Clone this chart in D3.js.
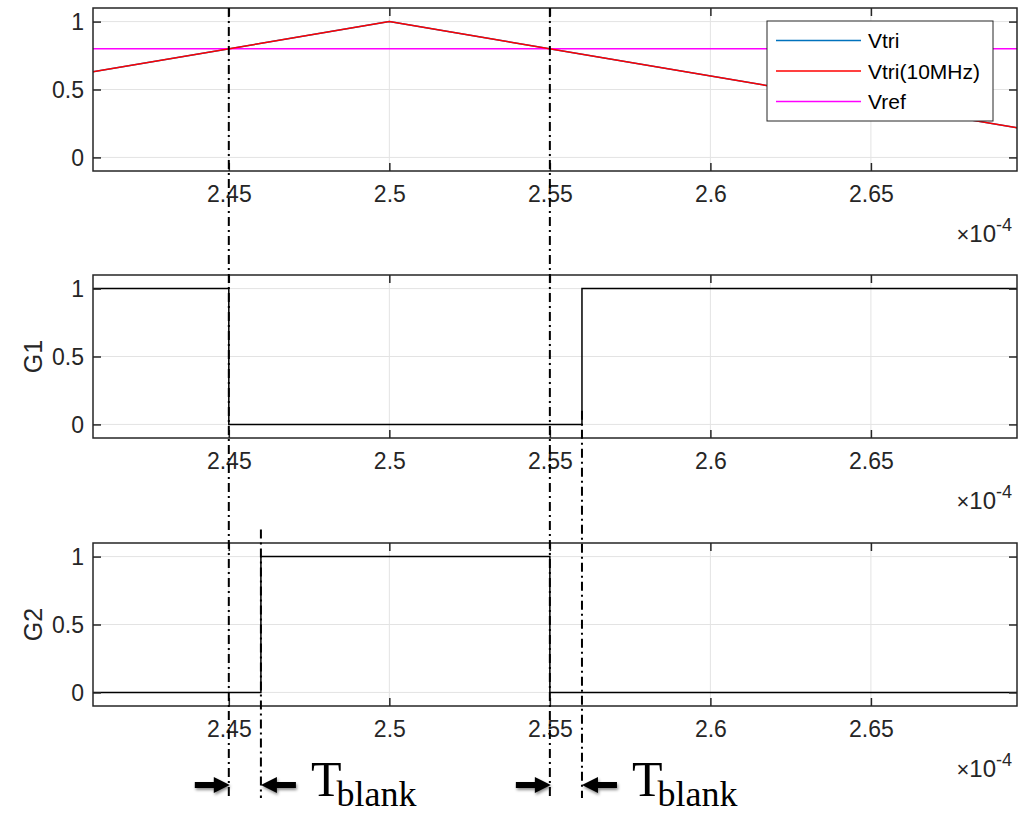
<!DOCTYPE html>
<html>
<head>
<meta charset="utf-8">
<script src="https://cdn.jsdelivr.net/npm/d3@7"></script>
<style>
  body { margin: 0; background: #fff; }
  svg { display: block; }
</style>
</head>
<body>
<div id="container"></div>
<script>
// ---- data (time axis in units of 1e-4 s) ----
const xDomain = [2.4077, 2.6955]
const yDomain = [-0.1, 1.1]
const xTicks = [2.45, 2.5, 2.55, 2.6, 2.65]
const yTicks = [0, 0.5, 1]

const vtriT = [2.25, 2.5, 2.75]
const vtriV = [0, 1, 0]
const vtri10T = [2.25, 2.5, 2.75]
const vtri10V = [0, 1, 0]
const vrefT = [2.25, 2.75]
const vrefV = [0.8, 0.8]

const g1T = [2.40, 2.45, 2.56, 2.70]
const g1V = [1, 0, 1, 1]
const g2T = [2.40, 2.46, 2.55, 2.70]
const g2V = [0, 1, 0, 0]

const legendNames = ['Vtri', 'Vtri(10MHz)', 'Vref']
const panelLabels = ['', 'G1', 'G2']

// dead-time edges: [gate off, gate on]
const blankStart = [2.45, 2.55]
const blankEnd = [2.46, 2.56]

function f1() {
    const config = {
        width: 1025,
        height: 816,
        left: 93,
        plotW: 924,
        plotH: 163,
        tops: [8, 275, 543],
        font: '"Liberation Sans", Arial, Helvetica, sans-serif',
        axisColor: '#262626',
    }

    const svg = d3
        .select('#container')
        .append('svg')
        .attr('width', config.width)
        .attr('height', config.height)

    const defs = svg.append('defs')
    const shadow = defs.append('filter').attr('id', 'shadow')
        .attr('x', '-20%').attr('y', '-50%').attr('width', '140%').attr('height', '200%')
    shadow.append('feDropShadow')
        .attr('dx', 1).attr('dy', 2).attr('stdDeviation', 1.5)
        .attr('flood-color', '#000').attr('flood-opacity', 0.45)

    const scaleX = d3.scaleLinear().domain(xDomain).range([0, config.plotW])
    const scaleY = d3.scaleLinear().domain(yDomain).range([config.plotH, 0])

    const toPoints = (ts, vs) => ts.map((t, i) => [t, vs[i]])

    const series = [
        [
            { pts: toPoints(vtriT, vtriV), color: '#0072BD', curve: d3.curveLinear },
            { pts: toPoints(vrefT, vrefV), color: '#FF00FF', curve: d3.curveLinear },
            { pts: toPoints(vtri10T, vtri10V), color: '#FF0000', curve: d3.curveLinear },
        ],
        [{ pts: toPoints(g1T, g1V), color: '#000', curve: d3.curveStepAfter }],
        [{ pts: toPoints(g2T, g2V), color: '#000', curve: d3.curveStepAfter }],
    ]

    const panels = config.tops.map((top, p) => {
        const g = svg.append('g').attr('transform', `translate(${config.left}, ${top})`)

        defs.append('clipPath').attr('id', 'clip' + p)
            .append('rect').attr('width', config.plotW).attr('height', config.plotH)

        // grid
        g.append('g').selectAll('line').data(xTicks).enter().append('line')
            .attr('x1', d => scaleX(d)).attr('x2', d => scaleX(d))
            .attr('y1', 0).attr('y2', config.plotH)
            .attr('stroke', '#e3e3e3').attr('stroke-width', 1)
        g.append('g').selectAll('line').data(yTicks).enter().append('line')
            .attr('x1', 0).attr('x2', config.plotW)
            .attr('y1', d => scaleY(d)).attr('y2', d => scaleY(d))
            .attr('stroke', '#e3e3e3').attr('stroke-width', 1)

        // data lines
        const lines = g.append('g').attr('clip-path', `url(#clip${p})`)
        series[p].forEach(s => {
            lines.append('path')
                .datum(s.pts)
                .attr('fill', 'none')
                .attr('stroke', s.color)
                .attr('stroke-width', 1.5)
                .attr('d', d3.line().x(d => scaleX(d[0])).y(d => scaleY(d[1])).curve(s.curve))
        })

        // axes
        const xAxis = g.append('g')
            .attr('transform', `translate(0, ${config.plotH})`)
            .call(d3.axisBottom(scaleX).tickValues(xTicks).tickFormat(d3.format('~g'))
                .tickSizeInner(-8).tickSizeOuter(0).tickPadding(15))
        const xAxisTop = g.append('g')
            .call(d3.axisTop(scaleX).tickValues(xTicks).tickFormat('')
                .tickSizeInner(-8).tickSizeOuter(0))
        const yAxis = g.append('g')
            .call(d3.axisLeft(scaleY).tickValues(yTicks).tickFormat(d3.format('~g'))
                .tickSizeInner(-8).tickSizeOuter(0).tickPadding(9))
        const yAxisRight = g.append('g')
            .attr('transform', `translate(${config.plotW}, 0)`)
            .call(d3.axisRight(scaleY).tickValues(yTicks).tickFormat('')
                .tickSizeInner(-8).tickSizeOuter(0))

        ;[xAxis, xAxisTop, yAxis, yAxisRight].forEach(a => {
            a.select('.domain').remove()
            a.selectAll('line').attr('stroke', config.axisColor).attr('stroke-width', 1.5)
            a.selectAll('text')
                .attr('fill', config.axisColor)
                .style('font-family', config.font)
                .style('font-size', '23px')
        })
        yAxis.selectAll('text').attr('dy', '0.36em')

        g.append('rect')
            .attr('width', config.plotW).attr('height', config.plotH)
            .attr('fill', 'none')
            .attr('stroke', config.axisColor)
            .attr('stroke-width', 1.5)

        // exponent label
        const expLabel = g.append('text')
            .attr('x', config.plotW - 5)
            .attr('y', config.plotH + 71)
            .attr('text-anchor', 'end')
            .attr('fill', config.axisColor)
            .style('font-family', config.font)
        expLabel.append('tspan').style('font-size', '22px').text('\u00d7')
        expLabel.append('tspan').style('font-size', '24px').text('10')
        expLabel.append('tspan').style('font-size', '18px').attr('dy', -11).text('-4')

        // y label
        if (panelLabels[p]) {
            g.append('text')
                .attr('transform', `translate(${-51}, ${config.plotH / 2}) rotate(-90)`)
                .attr('text-anchor', 'middle')
                .attr('fill', config.axisColor)
                .style('font-family', config.font)
                .style('font-size', '25px')
                .text(panelLabels[p])
        }

        return { g, top }
    })

    // legend on the first panel
    const legend = panels[0].g.append('g').attr('transform', 'translate(674, 13)')
    legend.append('rect')
        .attr('width', 226).attr('height', 100)
        .attr('fill', '#fff')
        .attr('stroke', config.axisColor)
        .attr('stroke-width', 1)
    const legendColors = ['#0072BD', '#FF0000', '#FF00FF']
    legendNames.forEach((name, i) => {
        const y = 19.5 + i * 30.5
        legend.append('line')
            .attr('x1', 9).attr('x2', 94).attr('y1', y).attr('y2', y)
            .attr('stroke', legendColors[i]).attr('stroke-width', 1.5)
        legend.append('text')
            .attr('x', 101).attr('y', y).attr('dy', '0.36em')
            .attr('fill', '#000')
            .style('font-family', config.font)
            .style('font-size', '21px')
            .text(name)
    })

    // dash-dot marker lines across the panels
    const absX = t => config.left + scaleX(t)
    const absY = (p, v) => config.tops[p] + scaleY(v)
    const markers = [
        { t: blankStart[0], y0: absY(0, 1.1) },
        { t: blankStart[1], y0: absY(0, 1.1) },
        { t: blankEnd[0], y0: absY(2, 1.2) },
        { t: blankEnd[1], y0: absY(1, 0.1) },
    ]
    const overlay = svg.append('g')
    overlay.selectAll('line.marker').data(markers).enter().append('line')
        .attr('class', 'marker')
        .attr('x1', d => absX(d.t)).attr('x2', d => absX(d.t))
        .attr('y1', d => d.y0).attr('y2', 798)
        .attr('stroke', '#000')
        .attr('stroke-width', 2)
        .attr('stroke-dasharray', '9,4,2,4')

    // arrows and T_blank labels
    const arrowY = 785
    const arrowPath = (tip, dir) => {
        const b = tip - dir * 16
        const tail = tip - dir * 35
        return `M${tail},${arrowY - 3}L${b},${arrowY - 3}L${b},${arrowY - 8}L${tip},${arrowY}` +
            `L${b},${arrowY + 8}L${b},${arrowY + 3}L${tail},${arrowY + 3}Z`
    }
    blankStart.forEach((t0, i) => {
        const t1 = blankEnd[i]
        overlay.append('path')
            .attr('d', arrowPath(absX(t0) + 1, 1))
            .attr('fill', '#000').attr('filter', 'url(#shadow)')
        overlay.append('path')
            .attr('d', arrowPath(absX(t1), -1))
            .attr('fill', '#000').attr('filter', 'url(#shadow)')

        const label = overlay.append('text')
            .attr('x', absX(t1) + 50)
            .attr('y', 796)
            .attr('fill', '#000')
            .style('font-family', '"Liberation Serif", "Times New Roman", serif')
        label.append('tspan').style('font-size', '50px').text('T')
        label.append('tspan').style('font-size', '36px').attr('dx', -5).attr('dy', 10).text('blank')
    })
}

f1();
</script>
</body>
</html>
